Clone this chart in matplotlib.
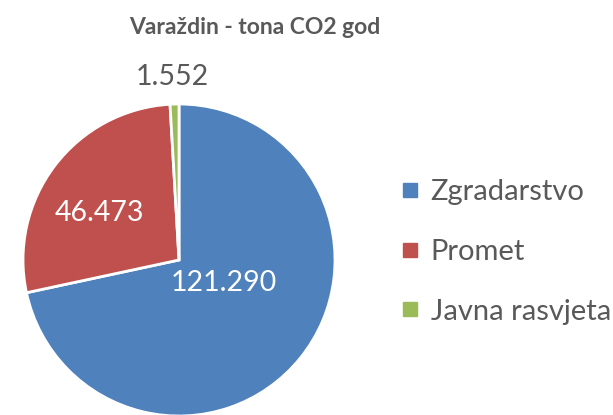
import matplotlib.pyplot as plt
from matplotlib.lines import Line2D

# Data (tona CO2 god)
categories = ["Zgradarstvo", "Promet", "Javna rasvjeta"]
values = [121290, 46473, 1552]
value_labels = ["121.290", "46.473", "1.552"]
colors = ["#4F81BD", "#C0504D", "#9BBB59"]

plt.rcParams['font.family'] = ['Lato', 'DejaVu Sans']
text_grey = "#595959"

fig = plt.figure(figsize=(6.13, 4.15), dpi=100)

# Pie axes: centre ~ (179, 260) px, radius ~156 px
r_px = 156
cx, cy = 179, 260
ax = fig.add_axes([(cx - r_px) / 613, (415 - cy - r_px) / 415, 2 * r_px / 613, 2 * r_px / 415])
ax.pie(values, colors=colors, startangle=90, counterclock=False,
       wedgeprops=dict(edgecolor="white", linewidth=2))
ax.set_xlim(-1, 1)
ax.set_ylim(-1, 1)
ax.set_aspect("equal")
ax.axis("off")

# Data labels
ax.text(0.29, -0.15, value_labels[0], color="white", fontsize=20.5, ha="center", va="center")
ax.text(-0.51, 0.30, value_labels[1], color="white", fontsize=20.5, ha="center", va="center")
ax.text(-0.045, 1.17, value_labels[2], color=text_grey, fontsize=20.5, ha="center", va="center",
        clip_on=False)

fig.text(255 / 613, 1 - 27 / 415, "Varaždin - tona CO2 god", ha="center", va="center",
         fontsize=16.5, fontweight="bold", color=text_grey)

handles = [Line2D([], [], marker="s", linestyle="none", markersize=10,
                  markerfacecolor=c, markeredgecolor=c) for c in colors]
fig.legend(handles, categories, loc="center left", bbox_to_anchor=(384 / 613, 1 - 252 / 415),
           frameon=False, fontsize=21, labelcolor=text_grey, labelspacing=1.15,
           handlelength=0.8, handletextpad=0.3, borderpad=0)

plt.savefig("out.png", dpi=100)
